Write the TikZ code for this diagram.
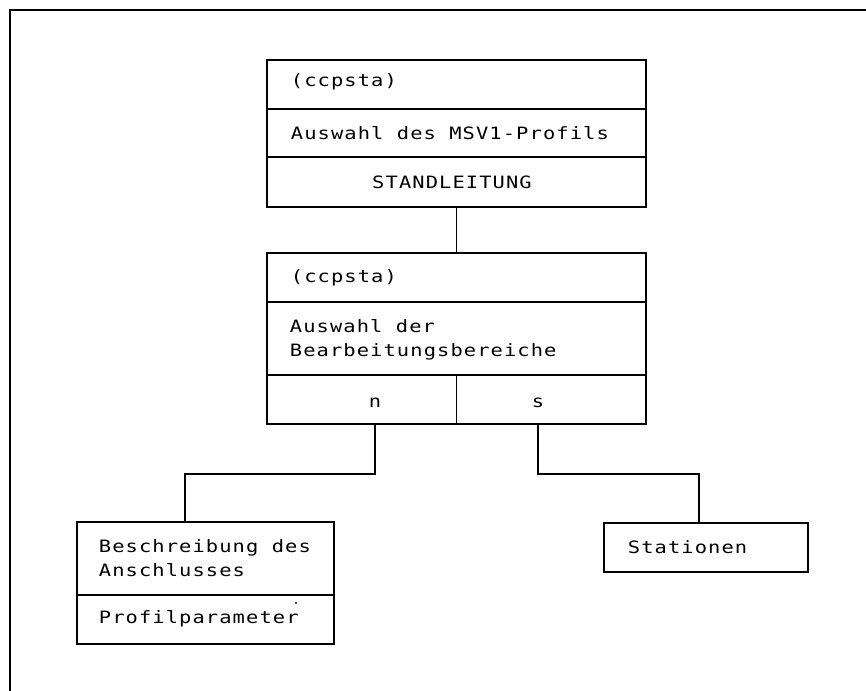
\documentclass[tikz,border=0pt]{standalone}
\usepackage{fontspec}
\newfontfamily\plotfont[FakeStretch=1.2,LetterSpace=6.5]{DejaVu Sans Mono}
\begin{document}
\begin{tikzpicture}[x=1pt,y=-1pt,line width=1.8pt,
  txt/.style={font=\plotfont\fontsize{17}{24}\selectfont,inner sep=0pt,anchor=base west,align=left},
  ctxt/.style={font=\plotfont\fontsize{17}{24}\selectfont,inner sep=0pt,anchor=base},
  box/.style={draw,rectangle,inner sep=0pt}]
\useasboundingbox (0,0) rectangle (866,690);
% outer frame (only top and left edges visible)
\draw[line width=2.4pt] (10,700) -- (10,10) -- (880,10);

% top box
\node[box,minimum width=379pt,minimum height=147pt] (b1) at (456.5,133.5) {};
\draw (b1.west |- 0,109) -- (b1.east |- 0,109);
\draw (b1.west |- 0,157) -- (b1.east |- 0,157);
\node[txt] (t1a) at (290,87) {(ccpsta)};
\node[txt] (t1b) at (290,139) {Auswahl des MSV1-Profils};
\node[ctxt] (t1c) at (452,188) {STANDLEITUNG};

% second box
\node[box,minimum width=379pt,minimum height=171pt] (b2) at (456.5,338.5) {};
\draw (b2.west |- 0,302) -- (b2.east |- 0,302);
\draw (b2.west |- 0,375) -- (b2.east |- 0,375);
\draw (456.5,375) -- (b2.south);
\node[txt] (t2a) at (290,282) {(ccpsta)};
\node[txt] (t2b) at (289,356) {Auswahl der\\Bearbeitungsbereiche};
\node[ctxt] (nl) at (375,407) {n};
\node[ctxt] (sl) at (538,407) {s};

\draw (b1.south) -- (b2.north);

% left bottom box
\node[box,minimum width=257pt,minimum height=122pt] (b3) at (205.5,583) {};
\draw (b3.west |- 0,595) -- (b3.east |- 0,595);
\node[txt] (t3a) at (98,576) {Beschreibung des\\Anschlusses};
\node[txt] (t3b) at (98,623) {Profilparameter};
\fill (296,603) circle (1.2pt);

% right bottom box
\node[box,minimum width=204pt,minimum height=49pt] (b4) at (706,547.5) {};
\node[txt] (t4) at (627,553) {Stationen};

\coordinate (c3) at (185,522);
\coordinate (c4) at (699,523);
\draw (nl |- b2.south) -- ++(0,49) -| (c3);
\draw (sl |- b2.south) -- ++(0,49) -| (c4);
\end{tikzpicture}
\end{document}
